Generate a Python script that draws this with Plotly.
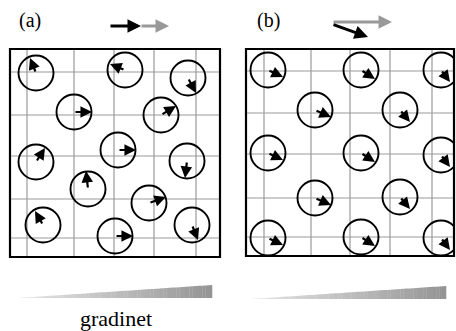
import plotly.graph_objects as go

# ---------------- data ----------------
# panel (a): circle centres and arrow vectors (dx, dy)
a_cx = [36, 125, 188, 74, 161, 36, 118, 187, 88, 149, 43, 192, 115]
a_cy = [73, 70, 78, 112, 115, 162, 150, 161, 189, 203, 225, 225, 236]
a_dx = [-6, -15, 8, 18, 15, 9, 18, -2, -2, 17, -8, 6, 18]
a_dy = [-15, -6, 15, 0, -9, -14, 0, 17, -18, -6, -14, 15, 0]

# panel (b): circle centres and arrow vectors
b_cx = [268, 361, 441, 315, 400, 268, 361, 441, 315, 400, 268, 361, 441]
b_cy = [70, 70, 70, 110, 110, 153, 153, 155, 198, 197, 238, 237, 238]
b_dx = [15, 14, 9, 16, 10, 15, 14, 9, 16, 10, 15, 14, 9]
b_dy = [7, 9, 12, 7, 12, 7, 9, 12, 7, 12, 7, 9, 12]

# grid lines
a_gx = [27, 74, 114, 154, 196]
a_gy = [72, 115, 156, 199, 238]
b_gx = [264, 311, 350, 390, 432]
b_gy = [71, 113, 154, 198, 237]

R = 17.5
BOX_A = (10, 49, 220, 257)
BOX_B = (246, 49, 454, 256)

shapes = []
annotations = []

def grid(box, gx, gy):
    x0, y0, x1, y1 = box
    for x in gx:
        shapes.append(dict(type="line", x0=x, x1=x, y0=y0, y1=y1, xref="x", yref="y",
                           line=dict(color="#9a9a9a", width=1.2)))
    for y in gy:
        shapes.append(dict(type="line", x0=x0, x1=x1, y0=y, y1=y, xref="x", yref="y",
                           line=dict(color="#9a9a9a", width=1.2)))

def circles(cx, cy, dx, dy):
    for x, y, u, v in zip(cx, cy, dx, dy):
        shapes.append(dict(type="circle", x0=x - R, x1=x + R, y0=y - R, y1=y + R,
                           xref="x", yref="y", line=dict(color="black", width=1.9)))
        annotations.append(dict(x=x + u, y=y + v, ax=x, ay=y, xref="x", yref="y",
                                axref="x", ayref="y", text="", showarrow=True,
                                arrowhead=2, arrowsize=1.05, arrowwidth=2.2,
                                arrowcolor="black"))

grid(BOX_A, a_gx, a_gy)
grid(BOX_B, b_gx, b_gy)
circles(a_cx, a_cy, a_dx, a_dy)
circles(b_cx, b_cy, b_dx, b_dy)

# white cover for clipped circles on the right
shapes.append(dict(type="rect", x0=455, x1=470, y0=40, y1=265, xref="x", yref="y",
                   line=dict(width=0), fillcolor="white"))

for box in (BOX_A, BOX_B):
    x0, y0, x1, y1 = box
    shapes.append(dict(type="rect", x0=x0, x1=x1, y0=y0, y1=y1, xref="x", yref="y",
                       line=dict(color="black", width=2.2)))

# top arrows
def arrow(x0, y0, x1, y1, color, w=3):
    annotations.append(dict(x=x1, y=y1, ax=x0, ay=y0, xref="x", yref="y",
                            axref="x", ayref="y", text="", showarrow=True,
                            arrowhead=2, arrowsize=0.9, arrowwidth=w,
                            arrowcolor=color))

arrow(140, 26, 169, 26, "#999999")
arrow(109, 26, 141, 26, "black")
arrow(332, 22, 392, 22, "#999999")
arrow(332, 24, 368, 37, "black")

# gradient wedges
def wedge(xl, xr, yb, yt, n=60):
    for i in range(n):
        xa = xl + (xr - xl) * i / n
        xb = xl + (xr - xl) * (i + 1) / n
        ta = yb - (yb - yt) * i / n
        tb = yb - (yb - yt) * (i + 1) / n
        f = (i + 0.5) / n
        c = int(232 - (232 - 148) * f)
        col = f"rgb({c},{c},{c})"
        shapes.append(dict(type="path",
                           path=f"M {xa},{yb} L {xb + 0.3},{yb} L {xb + 0.3},{tb} L {xa},{ta} Z",
                           xref="x", yref="y", line=dict(width=0), fillcolor=col))

wedge(17, 212, 298, 285)
wedge(250, 446, 299, 286)

font = dict(family="Liberation Serif, Times New Roman, serif", color="black")
annotations.append(dict(x=30, y=20, text="(a)", showarrow=False, xref="x", yref="y",
                        font=dict(size=20, **font)))
annotations.append(dict(x=268, y=20, text="(b)", showarrow=False, xref="x", yref="y",
                        font=dict(size=20, **font)))
annotations.append(dict(x=116, y=318, text="gradinet", showarrow=False, xref="x", yref="y",
                        font=dict(size=22, **font)))

fig = go.Figure()
fig.add_trace(go.Scatter(x=[0, 456], y=[0, 331], mode="markers",
                         marker=dict(opacity=0), hoverinfo="skip", showlegend=False))
fig.update_layout(width=456, height=331, margin=dict(l=0, r=0, t=0, b=0),
                  paper_bgcolor="white", plot_bgcolor="white",
                  xaxis=dict(range=[0, 456], visible=False, fixedrange=True),
                  yaxis=dict(range=[331, 0], visible=False, fixedrange=True),
                  shapes=shapes, annotations=annotations, showlegend=False)
fig.write_html("out.html", config={"staticPlot": True},
               post_script="document.body.style.margin='0';document.body.style.overflow='hidden';")
